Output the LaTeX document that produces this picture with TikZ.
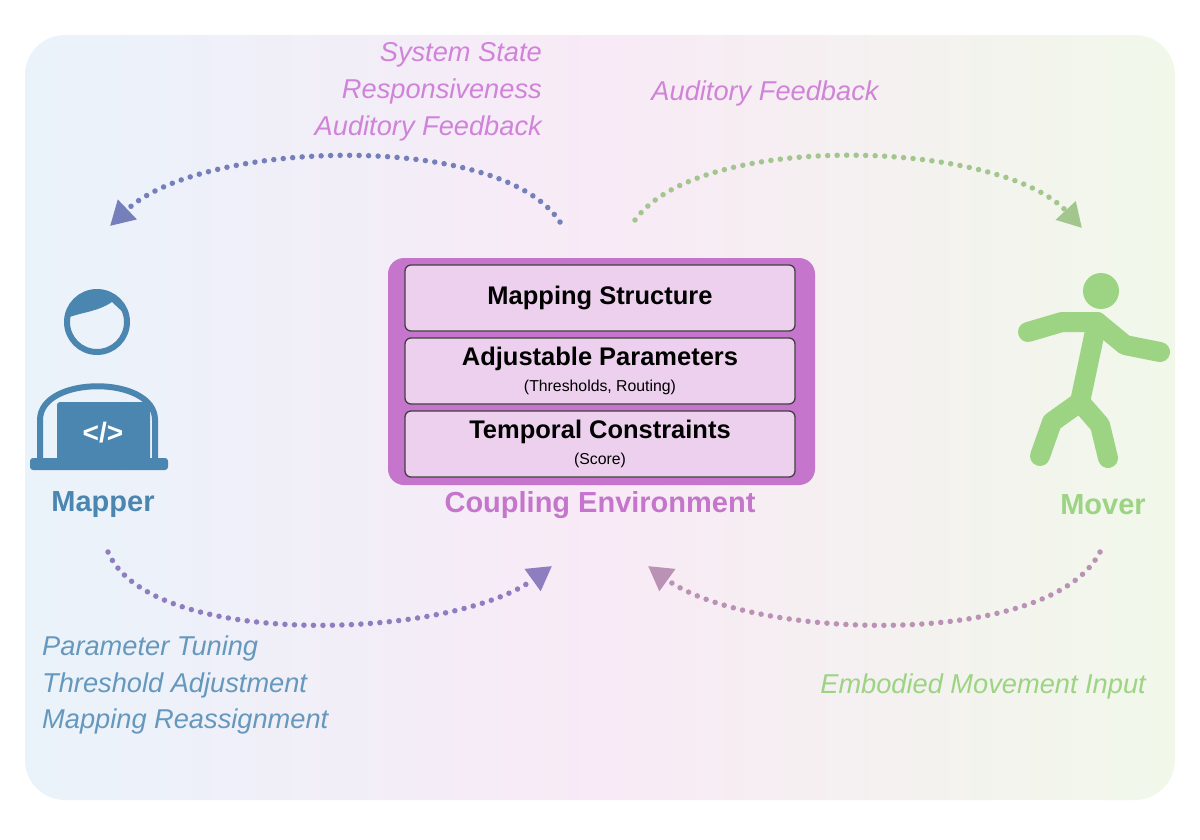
\documentclass[tikz,border=0pt]{standalone}
\usepackage{fontspec}
\setmainfont{Liberation Sans}
\usetikzlibrary{arrows.meta,positioning}
\newdimen\upx \upx=0.02cm
\definecolor{mapblue}{HTML}{4A86B0}
\definecolor{movgreen}{HTML}{9CD483}
\definecolor{cplpink}{HTML}{C576CC}
\definecolor{boxpink}{HTML}{EDD0EE}
\definecolor{txtpink}{HTML}{D083D8}
\definecolor{bgblue}{HTML}{EAF3FA}
\definecolor{bgpink}{HTML}{F8EAF6}
\definecolor{bggreen}{HTML}{F1F8EA}
\tikzset{
  dots/.style={line width=0.11cm, line cap=round, dash pattern=on 0pt off 0.19cm,
    -{Triangle[length=0.48cm,width=0.52cm]}},
  layer/.style={draw=black!75, line width=1.3\upx, rounded corners=6\upx, fill=boxpink,
    minimum width=390\upx, minimum height=66\upx, align=center, font=\bfseries\fontsize{14.5}{16}\selectfont},
  sub/.style={font=\mdseries\fontsize{9}{10}\selectfont},
  note/.style={font=\itshape\fontsize{15.5}{21}\selectfont, align=right},
  role/.style={font=\bfseries\fontsize{16.5}{18}\selectfont}
}
\begin{document}
\begin{tikzpicture}[x=0.02cm,y=-0.02cm]
\useasboundingbox (0,0) rectangle (1200,839);
% background
\shade[rounded corners=40\upx, left color=bgblue, right color=bggreen, middle color=bgpink]
  (25,35) rectangle (1175,800);
% coupling environment
\fill[cplpink, rounded corners=16\upx] (388,258) rectangle (815,485);
\node[layer] (map) at (600,298) {Mapping Structure};
\node[layer] (par) at (600,371) {Adjustable Parameters\\[-1pt]{\mdseries\fontsize{9}{10}\selectfont(Thresholds, Routing)}};
\node[layer] (tmp) at (600,444) {Temporal Constraints\\[-1pt]{\mdseries\fontsize{9}{10}\selectfont(Score)}};
\node[role, text=cplpink] (cpl) at (600,505) {Coupling Environment};
% mapper icon
\begin{scope}[mapblue, line width=6\upx, line cap=round]
  \draw (97,322) circle (30\upx);
  \fill (67,318) .. controls (70,282) and (125,282) .. (127,316) -- (112,302) .. controls (97,312) and (82,312) .. (67,318) -- cycle;
  \draw (40,462) -- (40,420) .. controls (40,375) and (155,375) .. (155,420) -- (155,462);
  \fill[rounded corners=3\upx] (57,402) rectangle (150,462);
  \fill[rounded corners=3\upx] (30,458) rectangle (168,470);
  \node[white, font=\bfseries\fontsize{16}{16}\selectfont] (code) at (103,433) {</>};
\end{scope}
\node[role, text=mapblue] (mapper) at (103,505) {Mapper};
% mover icon
\begin{scope}[movgreen, line width=20\upx, line cap=round, line join=round]
  \fill (1101,291) circle (18\upx);
  \draw (1097,322) -- (1080,402);
  \draw (1028,332) -- (1062,322) -- (1097,322) -- (1125,345) -- (1160,352);
  \draw (1080,402) -- (1052,422) -- (1040,456);
  \draw (1080,402) -- (1100,425) -- (1108,458);
\end{scope}
\node[role, text=movgreen] (mover) at (1103,505) {Mover};
% flows
\coordinate (tl0) at (560,222); \coordinate (tl1) at (110,226);
\coordinate (tr0) at (635,220); \coordinate (tr1) at (1082,228);
\coordinate (bl0) at (108,552); \coordinate (bl1) at (552,566);
\coordinate (br0) at (1100,552); \coordinate (br1) at (648,566);
\draw[dots, color=mapblue!65!cplpink] (tl0) .. controls (500,130) and (200,140) .. (tl1);
\draw[dots, color=movgreen!85!cplpink] (tr0) .. controls (700,130) and (1000,140) .. (tr1);
\draw[dots, color=mapblue!45!cplpink] (bl0) .. controls (150,650) and (450,640) .. (bl1);
\draw[dots, color=movgreen!30!cplpink] (br0) .. controls (1050,650) and (750,640) .. (br1);
% labels
\node[note, text=txtpink, anchor=east] (sys) at (548,92) {System State\\Responsiveness\\Auditory Feedback};
\node[note, text=txtpink] (aud) at (765,93) {Auditory Feedback};
\node[note, text=mapblue!85!white, anchor=west, align=left] (tun) at (36,685) {Parameter Tuning\\Threshold Adjustment\\Mapping Reassignment};
\node[note, text=movgreen, anchor=east] (emb) at (1152,686) {Embodied Movement Input};
\end{tikzpicture}
\end{document}
